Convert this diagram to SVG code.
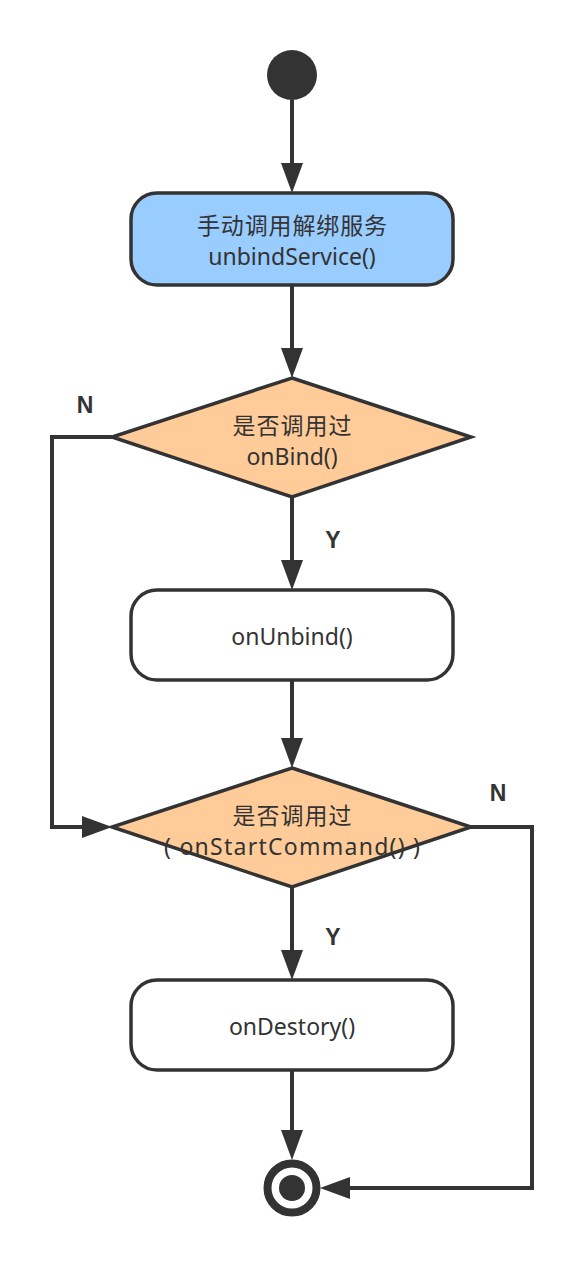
<svg xmlns="http://www.w3.org/2000/svg" width="583" height="1263" viewBox="0 0 583 1263">
<style>
.box{stroke:#333333;stroke-width:3.5}
.dia{fill:#FFCC99;stroke:#333333;stroke-width:3.5}
.t{font-family:"Noto Sans","Noto Sans CJK SC",sans-serif;font-size:23px;fill:#333333;text-anchor:middle}
.lbl{font-family:"Liberation Sans",Arial,sans-serif;font-size:23px;font-weight:bold;fill:#333333;text-anchor:middle}
.edge{fill:none;stroke:#333333;stroke-width:4;marker-end:url(#arr)}
</style>
<defs>
<marker id="arr" markerUnits="userSpaceOnUse" markerWidth="30" markerHeight="22" refX="10" refY="11" orient="auto">
<path d="M0,0 L30,11 L0,22 Z" fill="#333333"/>
</marker>
</defs>
<rect width="583" height="1263" fill="#ffffff"/>
<g id="connectors">
<path class="edge" d="M292,100 L292,173"/>
<path class="edge" d="M292,285 L292,358"/>
<path class="edge" d="M292,497 L292,570"/>
<path class="edge" d="M292,680 L292,748"/>
<path class="edge" d="M112,437 L52,437 L52,827 L92,827"/>
<path class="edge" d="M292,887 L292,960"/>
<path class="edge" d="M292,1070 L292,1140"/>
<path class="edge" d="M471,827 L532,827 L532,1188 L340,1188"/>
<text class="lbl" x="85" y="413">N</text>
<text class="lbl" x="333" y="548">Y</text>
<text class="lbl" x="498" y="801">N</text>
<text class="lbl" x="333" y="945">Y</text>
</g>
<g id="start">
<circle cx="292" cy="75" r="25" fill="#333333"/>
</g>
<g id="unbindService">
<rect class="box" x="131" y="193" width="322" height="92" rx="26" ry="26" fill="#99CCFF"/>
<text class="t" x="292" y="234" textLength="190" lengthAdjust="spacing">手动调用解绑服务</text>
<text class="t" x="292" y="265">unbindService()</text>
</g>
<g id="decisionBind">
<polygon class="dia" points="292,378 471,437 292,497 112,437"/>
<text class="t" x="292" y="434" textLength="119" lengthAdjust="spacing">是否调用过</text>
<text class="t" x="292" y="465">onBind()</text>
</g>
<g id="onUnbind">
<rect class="box" x="131" y="590" width="322" height="90" rx="26" ry="26" fill="#ffffff"/>
<text class="t" x="292" y="645">onUnbind()</text>
</g>
<g id="decisionStart">
<polygon class="dia" points="292,768 471,827 292,887 112,827"/>
<text class="t" x="292" y="824" textLength="119" lengthAdjust="spacing">是否调用过</text>
<text class="t" x="292" y="855" textLength="256" lengthAdjust="spacing">( onStartCommand() )</text>
</g>
<g id="onDestory">
<rect class="box" x="131" y="980" width="322" height="90" rx="26" ry="26" fill="#ffffff"/>
<text class="t" x="292" y="1035">onDestory()</text>
</g>
<g id="end">
<circle cx="292" cy="1188" r="24.5" fill="#ffffff" stroke="#333333" stroke-width="8"/>
<circle cx="292" cy="1188" r="13" fill="#333333"/>
</g>
</svg>
